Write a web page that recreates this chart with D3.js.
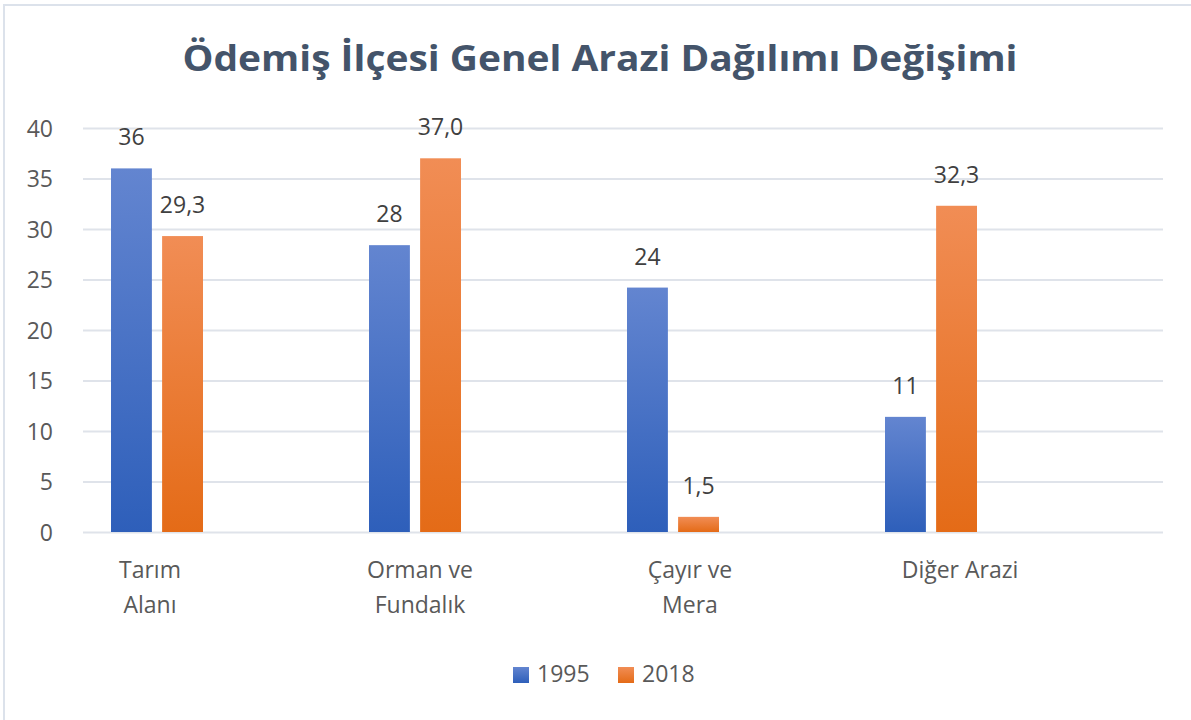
<!DOCTYPE html>
<html><head><meta charset="utf-8">
<script src="https://cdn.jsdelivr.net/npm/d3@7"></script>
<style>
html,body{margin:0;padding:0;background:#fff;}
svg{display:block;}
</style></head>
<body>
<svg id="chart" width="1191" height="720"></svg>
<script>
const title = "Ödemiş İlçesi Genel Arazi Dağılımı Değişimi";
const categories = ["Tarım Alanı", "Orman ve Fundalık", "Çayır ve Mera", "Diğer Arazi"];
const categoryLines = [["Tarım", "Alanı"], ["Orman ve", "Fundalık"], ["Çayır ve", "Mera"], ["Diğer Arazi"]];
const seriesNames = ["1995", "2018"];
const values1995 = [36, 28.4, 24.2, 11.4];
const values2018 = [29.3, 37.0, 1.5, 32.3];
const labels1995 = ["36", "28", "24", "11"];
const labels2018 = ["29,3", "37,0", "1,5", "32,3"];
const yTicks = [0, 5, 10, 15, 20, 25, 30, 35, 40];

const svg = d3.select("#chart");
const W = 1191, H = 720;
const font = "'Open Sans', 'Liberation Sans', sans-serif";

// gradients
const defs = svg.append("defs");
const grads = [
  {id: "g1995", top: "#6385d0", bottom: "#2e5fba"},
  {id: "g2018", top: "#f18d55", bottom: "#e46b17"}
];
grads.forEach(g => {
  const lg = defs.append("linearGradient").attr("id", g.id).attr("x1", 0).attr("y1", 0).attr("x2", 0).attr("y2", 1);
  lg.append("stop").attr("offset", "0%").attr("stop-color", g.top);
  lg.append("stop").attr("offset", "100%").attr("stop-color", g.bottom);
});

// border
svg.append("rect").attr("x", 4).attr("y", 5).attr("width", W + 10).attr("height", H + 10)
  .attr("fill", "none").attr("stroke", "#dce2eb").attr("stroke-width", 2);

// title
svg.append("text").attr("x", 600).attr("y", 71).attr("text-anchor", "middle")
  .attr("font-family", font).attr("font-weight", "bold").attr("font-size", 36)
  .attr("fill", "#44546a").attr("textLength", 835).attr("lengthAdjust", "spacingAndGlyphs")
  .text(title);

// scales
const y = d3.scaleLinear().domain([0, 40]).range([532, 128]);
const gridX0 = 83, gridX1 = 1163;
const x0 = d3.scaleBand().domain(categories).range([28, 1060]).padding(0);
const x1 = d3.scaleBand().domain(seriesNames).range([0, 92]).paddingInner(0.2);
const xLabel = d3.scalePoint().domain(categories).range([150, 960]);

// gridlines via axis
const yAxis = d3.axisLeft(y).tickValues(yTicks).tickSize(-(gridX1 - gridX0)).tickPadding(30).tickFormat(d3.format("d"));
const ga = svg.append("g").attr("transform", `translate(${gridX0},0)`).call(yAxis);
ga.select(".domain").remove();
ga.selectAll(".tick line").attr("stroke", "#dfe3ea").attr("stroke-width", 2);
ga.selectAll(".tick text").attr("font-family", font).attr("font-size", 23).attr("fill", "#595959")
  .attr("dy", "0.36em");

// bars
const data = categories.map((c, i) => ({c, i, vals: [values1995[i], values2018[i]], labs: [labels1995[i], labels2018[i]]}));
const groups = svg.append("g").selectAll("g").data(data).join("g")
  .attr("transform", d => `translate(${x0(d.c) + x0.bandwidth() / 2 - 46},0)`);
seriesNames.forEach((s, si) => {
  groups.append("rect")
    .attr("x", x1(s)).attr("width", x1.bandwidth())
    .attr("y", d => y(d.vals[si])).attr("height", d => y(0) - y(d.vals[si]))
    .attr("fill", `url(#${grads[si].id})`);
  groups.append("text")
    .attr("x", x1(s) + x1.bandwidth() / 2).attr("y", d => y(d.vals[si]) - 23)
    .attr("text-anchor", "middle").attr("font-family", font).attr("font-size", 23).attr("fill", "#404040")
    .text(d => d.labs[si]);
});

// category labels
const cl = svg.append("g").selectAll("text").data(data).join("text")
  .attr("x", d => xLabel(d.c)).attr("y", 578)
  .attr("text-anchor", "middle").attr("font-family", font).attr("font-size", 23).attr("fill", "#595959");
cl.each(function(d) {
  const t = d3.select(this);
  categoryLines[d.i].forEach((line, li) => {
    t.append("tspan").attr("x", xLabel(d.c)).attr("y", 578 + li * 35).text(line);
  });
});

// legend
const legendItems = [{s: "1995", x: 513}, {s: "2018", x: 618}];
const lg = svg.append("g");
legendItems.forEach((it, i) => {
  lg.append("rect").attr("x", it.x).attr("y", 667).attr("width", 16).attr("height", 16)
    .attr("fill", `url(#${grads[i].id})`);
  lg.append("text").attr("x", it.x + 24).attr("y", 682).attr("font-family", font).attr("font-size", 23)
    .attr("fill", "#595959").text(it.s);
});
</script>
</body></html>
